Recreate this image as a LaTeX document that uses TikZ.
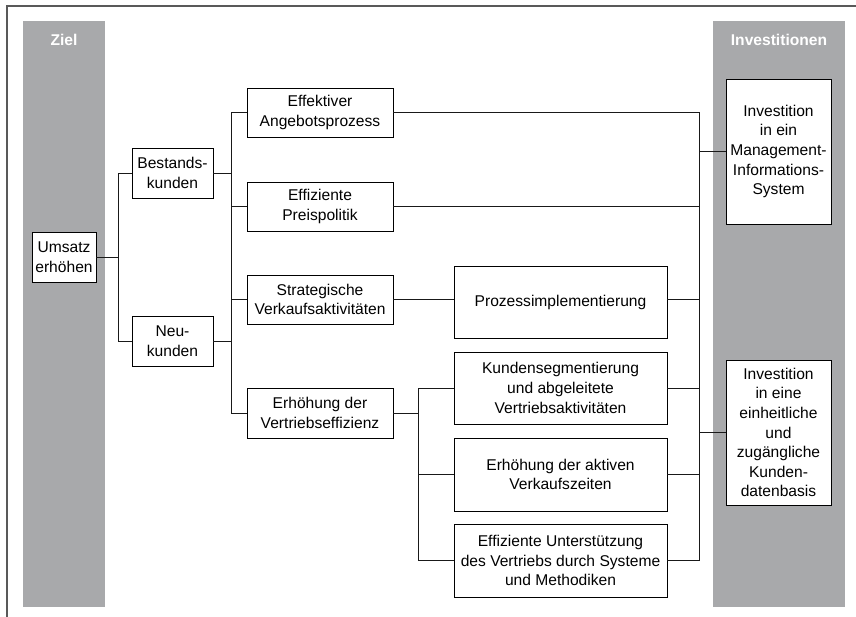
\documentclass[tikz,border=0pt]{standalone}
\usepackage{fontspec}
\setmainfont{Liberation Sans}
\begin{document}
\begin{tikzpicture}[x=1pt,y=-1pt,
  every node/.style={font=\fontsize{15.6}{19.6}\selectfont},
  box/.style={draw=black, line width=0.9pt, fill=white, align=center, inner sep=0pt},
  link/.style={draw=black!90, line width=0.9pt},
  band/.style={fill=bandgray, draw=none},
  bandtitle/.style={text=white, font=\fontsize{15.6}{19.6}\selectfont\bfseries},
  frame/.style={draw=black!65, line width=1.3pt}]
\definecolor{bandgray}{HTML}{A8A9AB}
\useasboundingbox (0,0) rectangle (856,617);

% outer frame (open to the right and bottom)
\draw[frame] (7,617) -- (7,6) -- (856,6);

% grey columns
\fill[band] (23,21) rectangle (105,607);
\fill[band] (713,21) rectangle (845,607);
\node[bandtitle] (ziel) at (64,40) {Ziel};
\node[bandtitle] (inv) at (779,40) {Investitionen};

% goal
\node[box, minimum width=64pt, minimum height=50pt] (umsatz) at (64,257) {Umsatz\\erhöhen};

% customer groups
\node[box, minimum width=81pt, minimum height=50pt] (bestand) at (172.5,173) {Bestands-\\kunden};
\node[box, minimum width=81pt, minimum height=50pt] (neu) at (172.5,341) {Neu-\\kunden};

% levers
\node[box, minimum width=146pt, minimum height=49pt] (angebot) at (320,112.5) {Effektiver\\Angebotsprozess};
\node[box, minimum width=146pt, minimum height=49pt] (preis) at (320,206.5) {Effiziente\\Preispolitik};
\node[box, minimum width=146pt, minimum height=49pt] (strat) at (320,299.5) {Strategische\\Verkaufsaktivitäten};
\node[box, minimum width=146pt, minimum height=50pt] (erh) at (320,413) {Erhöhung der\\Vertriebseffizienz};

% measures
\node[box, minimum width=213pt, minimum height=72pt] (prozess) at (560.5,302) {Prozessimplementierung};
\node[box, minimum width=213pt, minimum height=72pt] (kseg) at (560.5,388) {Kundensegmentierung\\und abgeleitete\\Vertriebsaktivitäten};
\node[box, minimum width=213pt, minimum height=73pt] (aktiv) at (560.5,474.5) {Erhöhung der aktiven\\Verkaufszeiten};
\node[box, minimum width=213pt, minimum height=73pt] (unterst) at (560.5,560.5) {Effiziente Unterstützung\\des Vertriebs durch Systeme\\und Methodiken};

% investments
\node[box, minimum width=105pt, minimum height=145pt] (mis) at (778.5,151.5) {Investition\\in ein\\Management-\\Informations-\\System};
\node[box, minimum width=105pt, minimum height=145pt] (kdb) at (778.5,432.5) {Investition\\in eine\\einheitliche\\und\\zugängliche\\Kunden-\\datenbasis};

% bracket columns
\coordinate (b1) at (118,0);
\coordinate (b2) at (231,0);
\coordinate (b3) at (418,0);
\coordinate (b4) at (699,0);

% goal -> customer groups
\draw[link] (umsatz.east) -- (b1 |- umsatz.east);
\draw[link] (bestand.west) -- (b1 |- bestand.west) -- (b1 |- neu.west) -- (neu.west);

% customer groups -> levers
\draw[link] (bestand.east) -- (b2 |- bestand.east);
\draw[link] (neu.east) -- (b2 |- neu.east);
\draw[link] (angebot.west) -- (b2 |- angebot.west) -- (b2 |- erh.west) -- (erh.west);
\draw[link] (preis.west) -- (b2 |- preis.west);
\draw[link] (strat.west) -- (b2 |- strat.west);

% levers -> measures
\draw[link] (strat.east) -- (prozess.west |- strat.east);
\draw[link] (erh.east) -- (b3 |- erh.east);
\draw[link] (kseg.west) -- (b3 |- kseg.west) -- (b3 |- unterst.west) -- (unterst.west);
\draw[link] (aktiv.west) -- (b3 |- aktiv.west);

% measures -> investments
\draw[link] (angebot.east) -- (b4 |- angebot.east) -- (b4 |- unterst.east) -- (unterst.east);
\draw[link] (preis.east) -- (b4 |- preis.east);
\draw[link] (prozess.east |- strat.east) -- (b4 |- strat.east);
\draw[link] (kseg.east) -- (b4 |- kseg.east);
\draw[link] (aktiv.east) -- (b4 |- aktiv.east);
\draw[link] (mis.west) -- (b4 |- mis.west);
\draw[link] (kdb.west) -- (b4 |- kdb.west);
\end{tikzpicture}
\end{document}
